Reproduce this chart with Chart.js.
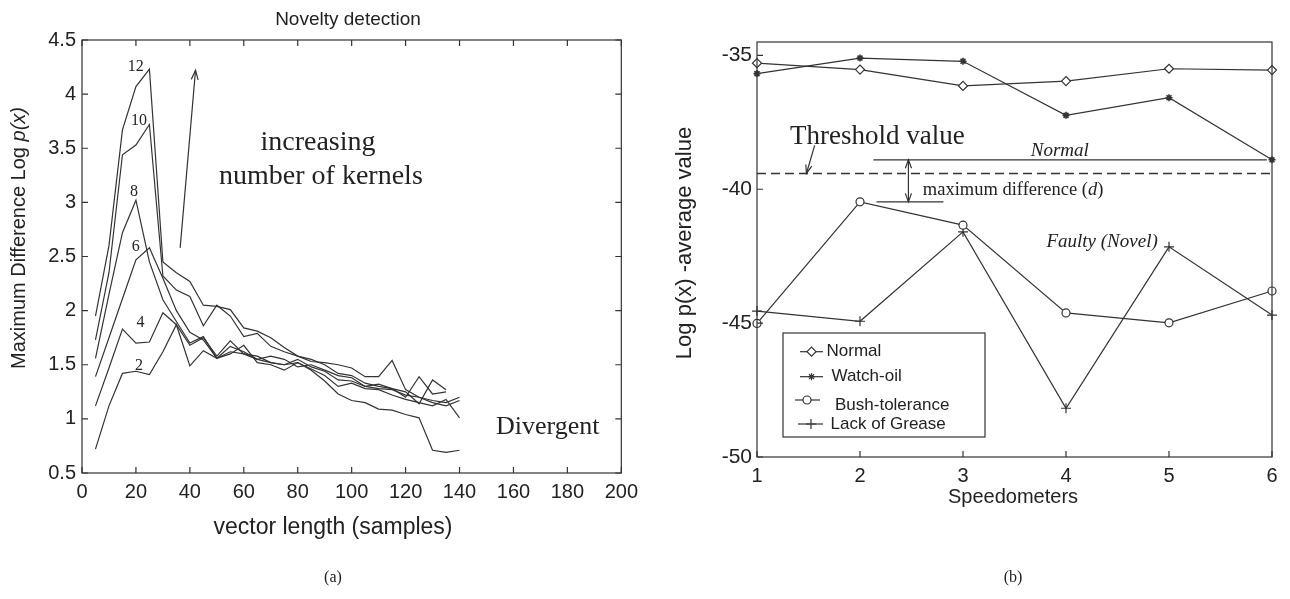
<!DOCTYPE html>
<html>
<head>
<meta charset="utf-8">
<script src="https://cdn.jsdelivr.net/npm/chart.js@4.4.0/dist/chart.umd.min.js"></script>
<style>
html,body{margin:0;padding:0;background:#fff;}
#wrap{position:relative;width:1290px;height:599px;overflow:hidden;}
.pane{position:absolute;top:0;width:645px;height:599px;}
</style>
</head>
<body>
<div id="wrap">
  <div class="pane" style="left:0"><canvas id="chartA"></canvas></div>
  <div class="pane" style="left:645px"><canvas id="chartB"></canvas></div>
</div>
<script>
// ---- (a) novelty detection: max difference vs vector length ----
var vecLen=[5,10,15,20,25,30,35,40,45,50,55,60,65,70,75,80,85,90,95,100,105,110,115,120,125,130,135,140];
var k2 =[0.72,1.12,1.42,1.44,1.41,1.62,1.87,1.49,1.63,1.56,1.60,1.68,1.52,1.50,1.45,1.52,1.45,1.35,1.23,1.17,1.15,1.09,1.08,1.04,1.01,0.71,0.69,0.71];
var k4 =[1.12,1.47,1.83,1.70,1.71,1.98,1.87,1.68,1.75,1.58,1.72,1.60,1.55,1.52,1.50,1.55,1.48,1.44,1.36,1.35,1.30,1.28,1.27,1.22,1.20,1.17,1.15,1.20];
var k6 =[1.39,1.75,2.11,2.47,2.58,2.30,2.00,1.80,1.73,1.56,1.62,1.60,1.58,1.52,1.50,1.52,1.46,1.40,1.30,1.33,1.28,1.27,1.22,1.18,1.15,1.12,1.18,1.01];
var k8 =[1.56,2.15,2.72,3.02,2.45,2.10,1.90,1.70,1.76,1.56,1.67,1.62,1.55,1.58,1.55,1.48,1.50,1.45,1.40,1.38,1.30,1.32,1.28,1.25,1.14,1.36,1.27,null];
var k10=[1.73,2.35,3.44,3.53,3.72,2.32,2.19,2.13,1.86,2.05,1.95,1.76,1.79,1.67,1.62,1.58,1.55,1.50,1.42,1.40,1.33,1.30,1.28,1.20,1.39,1.23,1.25,null];
var k12=[1.95,2.60,3.67,4.07,4.23,2.45,2.35,2.27,2.05,2.04,2.01,1.84,1.81,1.75,1.66,1.58,1.53,1.52,1.50,1.47,1.39,1.39,1.54,1.27,1.20,1.15,1.12,1.17];
var kernelNames=['2','4','6','8','10','12'];
var xTicksA=[0,20,40,60,80,100,120,140,160,180,200];
var yTicksA=[0.5,1,1.5,2,2.5,3,3.5,4,4.5];

// ---- (b) speedometers ----
var meters=[1,2,3,4,5,6];
var normal    =[-35.29,-35.53,-36.14,-35.96,-35.50,-35.55];
var watchOil  =[-35.68,-35.10,-35.22,-37.24,-36.58,-38.90];
var bushTol   =[-45.01,-40.47,-41.34,-44.62,-44.99,-43.80];
var lackGrease=[-44.55,-44.93,-41.59,-48.18,-42.15,-44.70];
var thresholdValue=-39.41;
var normalLevel=-38.90;
var maxDiffLevel=-40.47;
var yTicksB=[-50,-45,-40,-35];

var SANS='"Liberation Sans", Arial, sans-serif';
var SERIF='"Liberation Serif", "Times New Roman", serif';
var INK='#333';
Chart.defaults.font.family=SANS;
Chart.defaults.color='#222';
Chart.defaults.animation=false;

function setTicks(list){return function(s){s.ticks=list.map(function(v){return {value:v};});};}
function plain(v){return String(v);}

function txt(ctx,s,x,y,font,align){
  ctx.font=font;ctx.textAlign=align||'left';ctx.textBaseline='middle';ctx.fillStyle='#222';
  ctx.fillText(s,x,y);
}
function runs(ctx,parts,x,y,align){
  var w=0;
  parts.forEach(function(p){ctx.font=p[1];w+=ctx.measureText(p[0]).width;});
  var cx=align==='center'?x-w/2:x;
  ctx.textAlign='left';ctx.textBaseline='middle';ctx.fillStyle='#222';
  parts.forEach(function(p){ctx.font=p[1];ctx.fillText(p[0],cx,y);cx+=ctx.measureText(p[0]).width;});
}
function head(ctx,x1,y1,x2,y2,sz){
  var a=Math.atan2(y2-y1,x2-x1);
  ctx.beginPath();
  ctx.moveTo(x2-sz*Math.cos(a-0.35),y2-sz*Math.sin(a-0.35));
  ctx.lineTo(x2,y2);
  ctx.lineTo(x2-sz*Math.cos(a+0.35),y2-sz*Math.sin(a+0.35));
  ctx.stroke();
}
function arrow(ctx,x1,y1,x2,y2,sz,both){
  ctx.beginPath();ctx.moveTo(x1,y1);ctx.lineTo(x2,y2);ctx.stroke();
  head(ctx,x1,y1,x2,y2,sz);
  if(both)head(ctx,x2,y2,x1,y1,sz);
}
function frame(chart,sides){
  var c=chart.ctx,a=chart.chartArea,sx=chart.scales.x,sy=chart.scales.y,L=6;
  c.save();c.strokeStyle=INK;c.lineWidth=1.2;
  c.strokeRect(a.left,a.top,a.right-a.left,a.bottom-a.top);
  c.beginPath();
  sx.ticks.forEach(function(t){
    var p=sx.getPixelForValue(t.value);
    c.moveTo(p,a.bottom);c.lineTo(p,a.bottom-L);
    if(sides.top){c.moveTo(p,a.top);c.lineTo(p,a.top+L);}
  });
  sy.ticks.forEach(function(t){
    var p=sy.getPixelForValue(t.value);
    c.moveTo(a.left,p);c.lineTo(a.left+L,p);
    if(sides.right){c.moveTo(a.right,p);c.lineTo(a.right-L,p);}
  });
  c.stroke();c.restore();
}

// annotation placement for (a), in data units
var kernelLabelPos=[[21.1,1.49],[21.7,1.89],[19.9,2.59],[19.3,3.10],[21.1,3.75],[19.9,4.25]];

var plotA={
  id:'plotA',
  afterDraw:function(chart){
    var c=chart.ctx,sx=chart.scales.x,sy=chart.scales.y;
    frame(chart,{top:true,right:true});
    c.save();
    var X=function(v){return sx.getPixelForValue(v);},Y=function(v){return sy.getPixelForValue(v);};
    kernelNames.forEach(function(n,i){
      txt(c,n,X(kernelLabelPos[i][0]),Y(kernelLabelPos[i][1]),'16px '+SERIF,'center');
    });
    c.strokeStyle=INK;c.lineWidth=1.2;
    arrow(c,X(36.4),Y(2.58),X(42.1),Y(4.22),10);
    txt(c,'increasing',X(87.5),Y(3.55),'28px '+SERIF,'center');
    txt(c,'number of kernels',X(88.6),Y(3.24),'28px '+SERIF,'center');
    txt(c,'Divergent',X(153.5),Y(0.92),'26px '+SERIF,'left');
    txt(c,'Novelty detection',348,20,'19px '+SANS,'center');
    txt(c,'vector length (samples)',333,528,'23px '+SANS,'center');
    txt(c,'(a)',333,578,'16px '+SERIF,'center');
    c.translate(19,238);c.rotate(-Math.PI/2);
    runs(c,[['Maximum Difference Log ','20px '+SANS],['p(x)','italic 20px '+SANS]],0,0,'center');
    c.restore();
  }
};

new Chart(document.getElementById('chartA'),{
  type:'line',
  data:{datasets:[k2,k4,k6,k8,k10,k12].map(function(arr){
    return {
      data:vecLen.map(function(x,i){return {x:x,y:arr[i]};}).filter(function(p){return p.y!==null;}),
      borderColor:INK,borderWidth:1.2,pointRadius:0,fill:false,tension:0
    };
  })},
  options:{
    responsive:true,maintainAspectRatio:false,
    layout:{padding:{left:0,right:17,top:40,bottom:0}},
    plugins:{legend:{display:false},tooltip:{enabled:false}},
    scales:{
      x:{type:'linear',min:0,max:200,afterBuildTicks:setTicks(xTicksA),
         afterFit:function(s){s.height=599-473;},
         grid:{display:false,drawTicks:false},border:{display:false},
         ticks:{padding:7,autoSkip:false,maxRotation:0,font:{size:20},color:'#222',callback:plain}},
      y:{type:'linear',min:0.5,max:4.5,afterBuildTicks:setTicks(yTicksA),
         afterFit:function(s){s.width=82;},
         grid:{display:false,drawTicks:false},border:{display:false},
         ticks:{padding:6,font:{size:20},color:'#222',callback:plain}}
    }
  },
  plugins:[plotA]
});

// ---- chart (b) ----
function drawMarker(c,style,x,y,r){
  c.save();c.fillStyle='#fff';c.strokeStyle=INK;c.lineWidth=1.2;
  if(Chart.helpers&&Chart.helpers.drawPoint){
    Chart.helpers.drawPoint(c,{pointStyle:style,radius:r,borderWidth:style==='star'?1.6:1.2,rotation:0},x,y);
  }
  c.restore();
}
var legendRows=[
  {name:'Normal',style:'rectRot',r:4.5,line:[155,178],mk:166.5,tx:181.5,y:351.7},
  {name:'Watch-oil',style:'star',r:3.5,line:[155,178],mk:166.5,tx:186.5,y:376.7},
  {name:'Bush-tolerance',style:'circle',r:4,line:[150,175],mk:162,tx:190,y:405.7,my:400},
  {name:'Lack of Grease',style:'cross',r:5,line:[153,178],mk:166,tx:185.5,y:424}
];
var plotB={
  id:'plotB',
  afterDraw:function(chart){
    var c=chart.ctx,sx=chart.scales.x,sy=chart.scales.y;
    frame(chart,{top:false,right:false});
    var X=function(v){return sx.getPixelForValue(v);},Y=function(v){return sy.getPixelForValue(v);};
    c.save();
    c.strokeStyle=INK;c.lineWidth=1.2;
    arrow(c,X(2.47),Y(normalLevel),X(2.47),Y(maxDiffLevel),9,true);
    arrow(c,X(1.56),Y(-38.36),X(1.48),Y(thresholdValue),9,false);
    txt(c,'Threshold value',X(1.32),Y(-38.05),'27px '+SERIF,'left');
    txt(c,'Normal',X(3.94),Y(-38.57),'italic 19px '+SERIF,'center');
    runs(c,[['maximum difference (','18.5px '+SERIF],['d','italic 18.5px '+SERIF],[')','18.5px '+SERIF]],X(2.61),Y(-40.04),'left');
    txt(c,'Faulty (Novel)',X(3.81),Y(-41.97),'italic 19px '+SERIF,'left');
    // legend box
    c.fillStyle='#fff';c.fillRect(138,333,202,104);
    c.strokeStyle=INK;c.lineWidth=1.2;c.strokeRect(138,333,202,104);
    legendRows.forEach(function(r){
      var my=r.my||r.y;
      c.beginPath();c.moveTo(r.line[0],my);c.lineTo(r.line[1],my);c.stroke();
      drawMarker(c,r.style,r.mk,my,r.r);
      txt(c,r.name,r.tx,r.y,'17px '+SANS,'left');
    });
    txt(c,'Speedometers',368,497,'20px '+SANS,'center');
    txt(c,'(b)',368,578,'16px '+SERIF,'center');
    c.translate(40,243);c.rotate(-Math.PI/2);
    txt(c,'Log p(x) -average value',0,0,'22px '+SANS,'center');
    c.restore();
  }
};
function seriesB(vals,style,r,fillWhite,bw){
  return {data:meters.map(function(m,i){return {x:m,y:vals[i]};}),
    borderColor:INK,borderWidth:1.2,pointStyle:style,pointRadius:r,
    pointBackgroundColor:fillWhite?'#fff':INK,pointBorderColor:INK,pointBorderWidth:bw||1.2,
    fill:false,tension:0,clip:false};
}
function flatLine(x1,x2,y,dash){
  return {data:[{x:x1,y:y},{x:x2,y:y}],borderColor:INK,borderWidth:dash?1.6:1.2,borderDash:dash||[],pointRadius:0,fill:false,clip:false};
}
new Chart(document.getElementById('chartB'),{
  type:'line',
  data:{datasets:[
    seriesB(normal,'rectRot',4.5,true),
    seriesB(watchOil,'star',3.5,false,1.6),
    seriesB(bushTol,'circle',4,true),
    seriesB(lackGrease,'cross',5,false),
    flatLine(1,6,thresholdValue,[9,5]),
    flatLine(2.13,5.95,normalLevel),
    flatLine(2.16,2.81,maxDiffLevel)
  ]},
  options:{
    responsive:true,maintainAspectRatio:false,
    layout:{padding:{left:0,right:18,top:42,bottom:0}},
    plugins:{legend:{display:false},tooltip:{enabled:false}},
    scales:{
      x:{type:'linear',min:1,max:6,afterBuildTicks:setTicks(meters),
         afterFit:function(s){s.height=599-457;},
         grid:{display:false,drawTicks:false},border:{display:false},
         ticks:{padding:7,autoSkip:false,maxRotation:0,font:{size:20},color:'#222',callback:plain}},
      y:{type:'linear',min:-50,max:-34.5,afterBuildTicks:setTicks(yTicksB),
         afterFit:function(s){s.width=112;},
         grid:{display:false,drawTicks:false},border:{display:false},
         ticks:{padding:5,font:{size:21},color:'#222',callback:plain}}
    }
  },
  plugins:[plotB]
});
</script>
</body>
</html>
